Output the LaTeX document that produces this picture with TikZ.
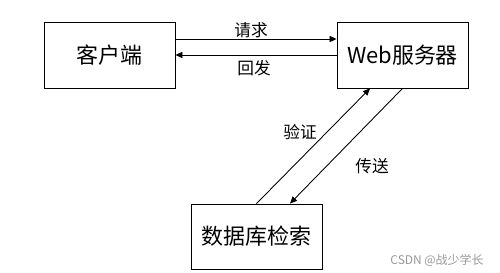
\documentclass[tikz,border=0pt]{standalone}
\usepackage{fontspec}
\setmainfont{Noto Sans CJK SC}
\usepackage{tikz}
\usetikzlibrary{positioning, arrows.meta}

\begin{document}
\begin{tikzpicture}[
          x=0.02cm, y=-0.02cm,
          box/.style={rectangle, draw, line width=0.5pt,
                      minimum width=2.62cm, minimum height=1.32cm,
                      font=\fontsize{12.5}{14}\selectfont, align=center},
          lbl/.style={font=\fontsize{9.5}{11}\selectfont},
          arr/.style={-{Triangle[length=4pt, width=3.5pt]}, line width=0.5pt}
        ]
        \useasboundingbox (0,0) rectangle (500,273);

        % Boxes
        \node[box] (client) at (109.5, 55)  {客户端};
        \node[box] (web)    at (402.5, 55)  {Web服务器};
        \node[box, minimum height=1.3cm] (db) at (256.5, 236.5) {数据库检索};

        % Client <-> Web
        \draw[arr] ([yshift=0.32cm]client.east) -- ([yshift=0.32cm]web.west);
        \draw[arr] (web.west) -- (client.east);
        \node[lbl] (req) at (251, 30) {请求};
        \node[lbl] (rep) at (254, 68) {回发};

        % Web <-> Database
        \draw[arr] (db.north) -- ([xshift=-0.65cm]web.south);
        \draw[arr] (web.south) -- ([xshift=0.67cm]db.north);
        \node[lbl] (chk) at (300, 132) {验证};
        \node[lbl] (snd) at (372, 166) {传送};

        % Watermark
        \node[font=\fontsize{6.8}{8}\selectfont, text=black!40] (wm) at (437, 260)
              {CSDN @战少学长};
      \end{tikzpicture}
\end{document}
